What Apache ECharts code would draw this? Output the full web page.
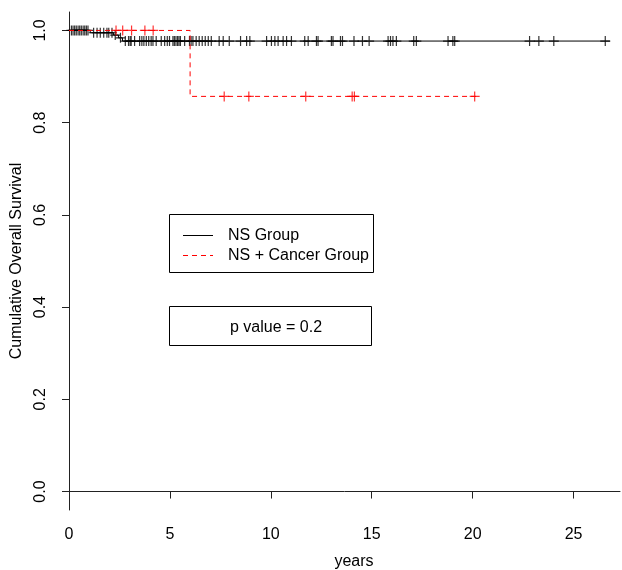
<!DOCTYPE html>
<html>
<head>
<meta charset="utf-8">
<script src="https://cdn.jsdelivr.net/npm/echarts@6/dist/echarts.min.js"></script>
<style>html,body{margin:0;padding:0;background:#fff;}#c{width:622px;height:570px;}</style>
</head>
<body>
<div id="c"></div>
<script>
// NS Group Kaplan-Meier step curve
var nsTimes = [0, 1.05, 2.2, 2.45, 2.65, 26.8];
var nsSurv  = [1, 0.995, 0.990, 0.984, 0.977, 0.977];
var nsCensor = [0.12, 0.2, 0.28, 0.36, 0.45, 0.53, 0.61, 0.7, 0.78, 0.86, 0.94,
  1.22, 1.39, 1.55, 1.72, 1.88, 1.97, 2.13, 2.29, 2.55,
  2.79, 2.95, 3.03, 3.08, 3.25, 3.5, 3.61, 3.71, 3.83, 3.95, 4.07, 4.16, 4.32, 4.57, 4.74, 4.87, 4.98,
  5.15, 5.22, 5.3, 5.38, 5.45, 5.52, 5.73, 5.97, 6.05, 6.14, 6.3, 6.45, 6.6, 6.75, 6.9, 7.05,
  7.44, 7.64, 7.94, 8.5, 8.8, 8.96, 9.79, 10.03, 10.2, 10.36, 10.61, 10.78, 11.02, 11.68, 11.85, 12.26, 12.34,
  13.0, 13.08, 13.45, 13.55, 14.12, 14.54, 14.87, 15.81, 15.93, 16.05, 16.22, 17.08, 17.21,
  18.78, 19.02, 19.11, 22.82, 23.28, 24.02, 26.57];
// NS + Cancer Group
var csTimes = [0, 6.0, 20.2];
var csSurv  = [1, 0.857, 0.857];
var csCensor = [2.33, 2.66, 3.1, 3.76, 4.17, 7.69, 8.91, 11.73, 14.03, 14.14, 20.1];

var xTicks = [0, 5, 10, 15, 20, 25];
var yTicks = [0, 0.2, 0.4, 0.6, 0.8, 1.0];

var FONT = "'Liberation Sans', Arial, sans-serif";
var FS = 16;

function survAt(times, surv, t) {
  var s = surv[0];
  for (var i = 0; i < times.length; i++) { if (times[i] <= t) s = surv[i]; }
  return s;
}
function pairs(a, b) { return a.map(function (v, i) { return [v, b[i]]; }); }
function censorPts(c, times, surv) { return c.map(function (t) { return [t, survAt(times, surv, t)]; }); }

var cross = 'path://M0,5L10,5M5,0L5,10';

var chart = echarts.init(document.getElementById('c'), null, {renderer: 'canvas'});
chart.setOption({
  animation: false,
  backgroundColor: '#fff',
  grid: {left: 69, right: 2, top: 12, bottom: 60},
  xAxis: {
    type: 'value', min: 0, max: 27.3,
    axisLine: {show: true, lineStyle: {color: '#222', width: 1}},
    axisTick: {show: true, length: 7, lineStyle: {color: '#222'}, customValues: xTicks},
    axisLabel: {color: '#000', fontSize: FS, fontFamily: FONT, margin: 17, customValues: xTicks,
      formatter: function (v) { return String(v); }},
    splitLine: {show: false}
  },
  yAxis: {
    type: 'value', min: -0.04, max: 1.04,
    name: 'Cumulative Overall Survival', nameLocation: 'middle', nameGap: 44,
    nameTextStyle: {color: '#000', fontSize: FS, fontFamily: FONT},
    axisLine: {show: true, lineStyle: {color: '#222', width: 1}},
    axisTick: {show: true, length: 7, lineStyle: {color: '#222'}, customValues: yTicks},
    axisLabel: {color: '#000', fontSize: FS, fontFamily: FONT, margin: 20, rotate: 90, customValues: yTicks,
      formatter: function (v) { return v.toFixed(1); }},
    splitLine: {show: false}
  },
  series: [
    {type: 'line', step: 'end', data: pairs(nsTimes, nsSurv), showSymbol: false, symbol: 'none',
      lineStyle: {color: '#000', width: 1}, z: 3},
    {type: 'line', step: 'end', data: pairs(csTimes, csSurv), showSymbol: false, symbol: 'none',
      lineStyle: {color: '#ff0000', width: 1, type: [5, 4]}, z: 4},
    {type: 'scatter', data: censorPts(nsCensor, nsTimes, nsSurv), symbol: cross, symbolSize: [10, 10],
      itemStyle: {color: 'none', borderColor: '#000', borderWidth: 1.2}, z: 3},
    {type: 'scatter', data: censorPts(csCensor, csTimes, csSurv), symbol: cross, symbolSize: [10, 10],
      itemStyle: {color: 'none', borderColor: '#ff0000', borderWidth: 1.2}, z: 5}
  ],
  graphic: [
    {type: 'rect', shape: {x: 169.5, y: 214.5, width: 204, height: 58}, style: {fill: '#fff', stroke: '#000', lineWidth: 1}},
    {type: 'line', shape: {x1: 183, y1: 235.5, x2: 213, y2: 235.5}, style: {stroke: '#000', lineWidth: 1}},
    {type: 'line', shape: {x1: 183, y1: 255.5, x2: 213, y2: 255.5}, style: {stroke: '#ff0000', lineWidth: 1, lineDash: [5, 4]}},
    {type: 'text', x: 228, y: 236, style: {text: 'NS Group', fill: '#000', font: FS + 'px ' + FONT, textVerticalAlign: 'middle'}},
    {type: 'text', x: 228, y: 256, style: {text: 'NS + Cancer Group', fill: '#000', font: FS + 'px ' + FONT, textVerticalAlign: 'middle'}},
    {type: 'rect', shape: {x: 169.5, y: 306.5, width: 202, height: 39}, style: {fill: '#fff', stroke: '#000', lineWidth: 1}},
    {type: 'text', x: 276, y: 328, style: {text: 'p value = 0.2', fill: '#000', font: FS + 'px ' + FONT, textAlign: 'center', textVerticalAlign: 'middle'}},
    {type: 'text', x: 354, y: 562, style: {text: 'years', fill: '#000', font: FS + 'px ' + FONT, textAlign: 'center', textVerticalAlign: 'middle'}}
  ]
});
</script>
</body>
</html>
